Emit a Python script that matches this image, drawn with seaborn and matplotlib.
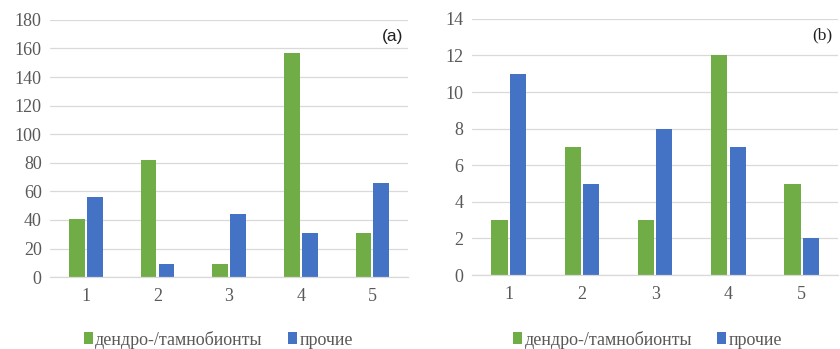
import numpy as np
import pandas as pd
import matplotlib
matplotlib.use("Agg")
import matplotlib.pyplot as plt
import seaborn as sns

categories = ["1", "2", "3", "4", "5"]
series_names = ["дендро-/тамнобионты", "прочие"]
a_dendro = [41, 82, 9, 157, 31]
a_other = [56, 9, 44, 31, 66]
b_dendro = [3, 7, 3, 12, 5]
b_other = [11, 5, 8, 7, 2]

colors = ["#70AD47", "#4472C4"]

sns.set_theme(style="white")
plt.rcParams['font.family'] = ['Liberation Serif', 'DejaVu Serif']

def make_df(d, o):
    return pd.DataFrame({
        "cat": categories * 2,
        "val": list(d) + list(o),
        "series": [series_names[0]] * len(categories) + [series_names[1]] * len(categories),
    })

fig = plt.figure(figsize=(8.4, 3.49), dpi=100)
ax1 = fig.add_axes([0.0595, 0.206, 0.4265, 0.737])
ax2 = fig.add_axes([0.562, 0.212, 0.436, 0.734])

specs = [
    (ax1, make_df(a_dendro, a_other), 180, 20, "(a)", 'Liberation Sans', 0.260),
    (ax2, make_df(b_dendro, b_other), 14, 2, "(b)", 'Liberation Serif', 0.771),
]

for ax, df, ymax, step, lab, labfont, legx in specs:
    sns.barplot(data=df, x="cat", y="val", hue="series", palette=colors,
                width=0.5, gap=0.12, ax=ax, saturation=1, linewidth=0,
                legend=True)
    ax.set_ylim(0, ymax)
    ax.set_yticks(np.arange(0, ymax + 1, step))
    ax.set_xlim(-0.5, 4.5)
    ax.grid(axis="y", color="#D9D9D9", linewidth=0.9)
    ax.set_axisbelow(True)
    for s in ["left", "right", "top"]:
        ax.spines[s].set_visible(False)
    ax.spines["bottom"].set_color("#D9D9D9")
    ax.spines["bottom"].set_linewidth(0.9)
    ax.tick_params(axis="both", length=0, labelsize=13, colors="#595959")
    ax.tick_params(axis="x", pad=8)
    ax.tick_params(axis="y", pad=6)
    ax.set_xlabel("")
    ax.set_ylabel("")
    ax.text(0.985, 0.935, lab, transform=ax.transAxes, ha="right", va="center",
            fontsize=12.5, family=[labfont], color="#202020")
    leg = ax.legend(loc="center", bbox_to_anchor=(legx, 0.027),
                    bbox_transform=fig.transFigure,
                    ncol=2, frameon=False, fontsize=13, handlelength=0.5,
                    handleheight=0.65, handletextpad=0.15, columnspacing=1.4)
    for t in leg.get_texts():
        t.set_color("#595959")

fig.savefig("out.png", dpi=100)
